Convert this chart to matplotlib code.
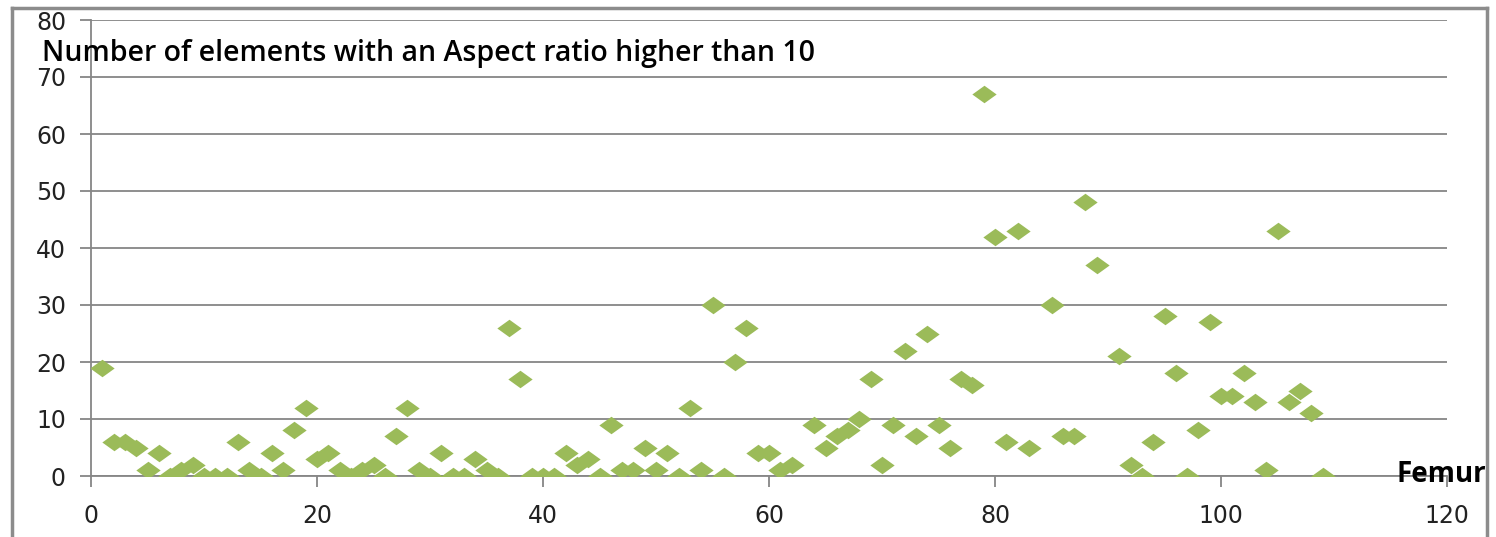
import matplotlib.pyplot as plt
from matplotlib.lines import Line2D

# femur element index and count of elements with aspect ratio > 10
femur = list(range(1, 63)) + list(range(64, 84)) + list(range(85, 90)) + list(range(91, 110))
counts = [19, 6, 6, 5, 1, 4, 0, 1, 2, 0,
          0, 0, 6, 1, 0, 4, 1, 8, 12, 3,
          4, 1, 0, 1, 2, 0, 7, 12, 1, 0,
          4, 0, 0, 3, 1, 0, 26, 17, 0, 0,
          0, 4, 2, 3, 0, 9, 1, 1, 5, 1,
          4, 0, 12, 1, 30, 0, 20, 26, 4, 4,
          1, 2,
          9, 5, 7, 8, 10, 17, 2, 9, 22, 7,
          25, 9, 5, 17, 16, 67, 42, 6, 43, 5,
          30, 7, 7, 48, 37,
          21, 2, 0, 6, 28, 18, 0, 8, 27, 14,
          14, 18, 13, 1, 43, 13, 15, 11, 0]

x_ticks = [0, 20, 40, 60, 80, 100, 120]
y_ticks = [0, 10, 20, 30, 40, 50, 60, 70, 80]

title = "Number of elements with an Aspect ratio higher than 10"
xlabel = "Femur"

green = "#9bbb59"
gray = "#868686"

fig = plt.figure(figsize=(14.96, 5.37), dpi=100)
ax = fig.add_axes([91 / 1496, 61 / 537, (1447 - 91) / 1496, (476 - 20) / 537])

# squashed diamond like the excel marker
diamond = [(-1, 0), (0, 0.72), (1, 0), (0, -0.72), (-1, 0)]
ax.plot(femur, counts, linestyle="none", marker=diamond, markersize=17.5,
        color=green, markeredgewidth=0, zorder=3)

ax.set_xlim(0, 120)
ax.set_ylim(0, 80)
ax.set_xticks(x_ticks)
ax.set_yticks(y_ticks)
ax.yaxis.grid(True, color=gray, linewidth=1.3)
ax.set_axisbelow(True)

for s in ["top", "right"]:
    ax.spines[s].set_visible(False)
for s in ["left", "bottom"]:
    ax.spines[s].set_color(gray)
    ax.spines[s].set_linewidth(1.3)

ax.tick_params(axis="both", colors=gray, width=1.3, length=8, labelsize=17,
               labelcolor="#222222")
ax.tick_params(axis="y", pad=10)
ax.tick_params(axis="x", pad=12)

fig.text(42 / 1496, 1 - 61 / 537, title, fontsize=20.5, fontweight="semibold",
         family="Open Sans", va="baseline", ha="left")
fig.text(1486 / 1496, 1 - 475 / 537, xlabel, fontsize=20, fontweight="bold",
         family="Open Sans", va="center", ha="right")

# chart frame, bottom edge is cut off in the original
frame = [((12, 537), (12, 8)), ((12, 8), (1487, 8)), ((1487, 8), (1487, 537))]
for (x0, y0), (x1, y1) in frame:
    fig.add_artist(Line2D([x0 / 1496, x1 / 1496], [1 - y0 / 537, 1 - y1 / 537],
                          transform=fig.transFigure, color="#8c8c8c", linewidth=2.5))

fig.savefig("out.png", dpi=100)
